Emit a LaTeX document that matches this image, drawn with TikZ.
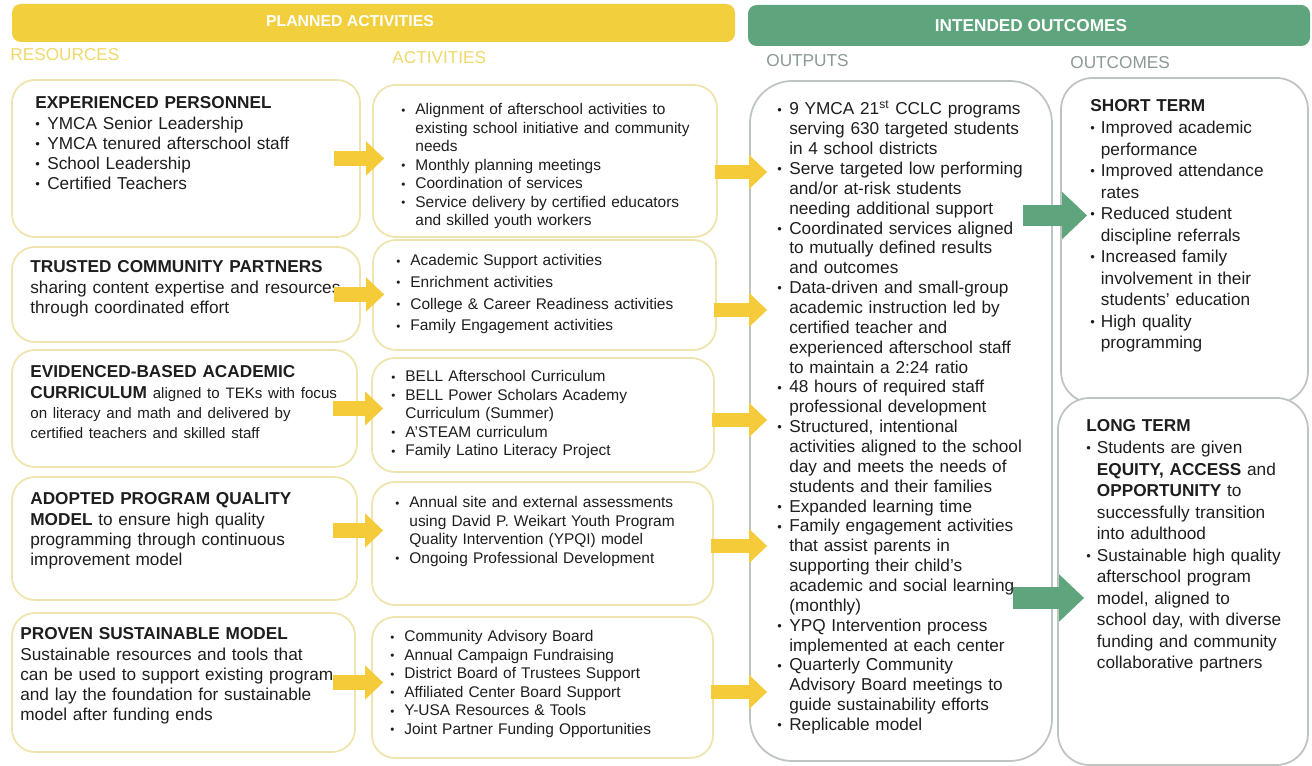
\documentclass[tikz,border=0pt]{standalone}
\usepackage{fontspec}
\setmainfont{Liberation Sans}
\usetikzlibrary{fit,arrows.meta}

\definecolor{planyellow}{HTML}{F2CF3C}
\definecolor{arrowyellow}{HTML}{F5CB3A}
\definecolor{boxyellow}{HTML}{EFE4AE}
\definecolor{labelyellow}{HTML}{EFD96C}
\definecolor{outgreen}{HTML}{5EA47C}
\definecolor{boxgray}{HTML}{BEC5C0}
\definecolor{labelgray}{HTML}{8B9A92}
\definecolor{txt}{HTML}{1E1E1E}

% hanging bullet lines: \fitem opens a list, \bitem continues it
\newlength\bulw
\newcommand{\fitem}{\noindent\hangindent=\bulw\hangafter=1%
  \makebox[\bulw][l]{\raisebox{0.4pt}{\scalebox{0.75}{\textbullet}}}}
\newcommand{\bitem}{\par\fitem}

\begin{document}
\begin{tikzpicture}[x=0.02cm, y=-0.02cm,
    resbox/.style ={draw=boxyellow, line width=1pt, rounded corners=13pt, fill=white, inner sep=0pt},
    outbox/.style ={draw=boxgray, line width=1pt, rounded corners=18pt, fill=white, inner sep=0pt},
    bar/.style ={rounded corners=5pt, inner sep=0pt},
    bartext/.style ={text=white, inner sep=0pt},
    collabel/.style ={anchor=base west, inner sep=0pt, font=\fontsize{9.8}{11}\selectfont},
    restext/.style ={anchor=base west, inner sep=0pt, text width=6.9cm, text=txt,
                     font=\fontsize{9.8}{11.4}\selectfont\setlength\bulw{6.8pt}},
    acttext/.style ={anchor=base west, inner sep=0pt, text width=6.6cm, text=txt,
                     font=\fontsize{8.8}{10.5}\selectfont\setlength\bulw{8pt}},
    outtext/.style ={anchor=base west, inner sep=0pt, text width=5.8cm, text=txt,
                     font=\fontsize{9.8}{11.3}\selectfont\setlength\bulw{6.8pt}},
    termtext/.style ={anchor=base west, inner sep=0pt, text width=4.6cm, text=txt,
                     font=\fontsize{9.8}{12.25}\selectfont\setlength\bulw{6pt}},
    yarrow/.style ={arrowyellow, line width=8.5pt, -{Triangle[width=18.7pt,length=10.2pt]}},
    garrow/.style ={outgreen, line width=12.5pt, -{Triangle[width=26pt,length=14.2pt]}}]

   \useasboundingbox (0,0) rectangle (1312,766);
   \fill[white] (0,0) rectangle (1312,766);

   % header bars
   \node[bar, fill=planyellow, fit={(12,4) (735,42)}] (plan) {};
   \node[bar, fill=outgreen, fit={(748,5) (1310,46)}] (intend) {};
   \node[bartext, font=\fontsize{9}{10}\selectfont\bfseries] (plantext) at (350,21) {PLANNED ACTIVITIES};
   \node[bartext, font=\fontsize{9.8}{11}\selectfont\bfseries] (intendtext) at (1031,26) {INTENDED OUTCOMES};

   % column labels
   \node[collabel, text=labelyellow] (reslabel) at (10,61) {RESOURCES};
   \node[collabel, text=labelyellow] (actlabel) at (392,64) {ACTIVITIES};
   \node[collabel, text=labelgray] (outlabel) at (766,67) {OUTPUTS};
   \node[collabel, text=labelgray] (outclabel) at (1070,69) {OUTCOMES};

   % resources
   \node[resbox, fit={(12,80) (360,237)}] (res1) {};
   \node[resbox, fit={(12,247) (360,342)}] (res2) {};
   \node[resbox, fit={(12,350) (357,467)}] (res3) {};
   \node[resbox, fit={(12,477) (357,600)}] (res4) {};
   \node[resbox, fit={(12,613) (355,752)}] (res5) {};

   % activities
   \node[resbox, fit={(373,85) (717,237)}] (act1) {};
   \node[resbox, fit={(373,240) (716,350)}] (act2) {};
   \node[resbox, fit={(372,358) (714,472)}] (act3) {};
   \node[resbox, fit={(372,482) (713,605)}] (act4) {};
   \node[resbox, fit={(372,617) (713,758)}] (act5) {};

   % outputs and outcomes
   \node[outbox, rounded corners=24pt, fit={(750,81) (1052,761)}] (out) {};
   \node[outbox, fit={(1061,78) (1308,403)}] (st) {};
   \node[outbox, fit={(1058,398) (1308,765)}] (lt) {};

   \node[restext] (res1text) at (35,109) {\textbf{EXPERIENCED PERSONNEL}
     \bitem YMCA Senior Leadership
     \bitem YMCA tenured afterschool staff
     \bitem School Leadership
     \bitem Certified Teachers\par};
   \node[restext] (res2text) at (30,273) {\textbf{TRUSTED COMMUNITY PARTNERS}\newline
     sharing content expertise and resources\newline
     through coordinated effort};
   \node[restext] (res3text) at (30,378) {\textbf{EVIDENCED-BASED ACADEMIC}\newline
     \textbf{CURRICULUM} {\fontsize{8.6}{11.4}\selectfont aligned to TEKs with focus\newline
     on literacy and math and delivered by\newline
     certified teachers and skilled staff}};
   \node[restext] (res4text) at (30,505) {\textbf{ADOPTED PROGRAM QUALITY}\newline
     \textbf{MODEL} to ensure high quality\newline
     programming through continuous\newline
     improvement model};
   \node[restext] (res5text) at (20,640) {\textbf{PROVEN SUSTAINABLE MODEL}\newline
     Sustainable resources and tools that\newline
     can be used to support existing program\newline
     and lay the foundation for sustainable\newline
     model after funding ends};

   \node[acttext] (act1text) at (401,115) {%
     \fitem Alignment of afterschool activities to\newline
       existing school initiative and community\newline needs
     \bitem Monthly planning meetings
     \bitem Coordination of services
     \bitem Service delivery by certified educators\newline
       and skilled youth workers\par};
   \node[acttext] (act2text) at (396,266) {\baselineskip=12.3pt
     \fitem Academic Support activities
     \bitem Enrichment activities
     \bitem College \& Career Readiness activities
     \bitem Family Engagement activities\par};
   \node[acttext] (act3text) at (391,382) {%
     \fitem BELL Afterschool Curriculum
     \bitem BELL Power Scholars Academy\newline Curriculum (Summer)
     \bitem A'STEAM curriculum
     \bitem Family Latino Literacy Project\par};
   \node[acttext] (act4text) at (395,508) {%
     \fitem Annual site and external assessments\newline
       using David P. Weikart Youth Program\newline
       Quality Intervention (YPQI) model
     \bitem Ongoing Professional Development\par};
   \node[acttext] (act5text) at (390,642) {%
     \fitem Community Advisory Board
     \bitem Annual Campaign Fundraising
     \bitem District Board of Trustees Support
     \bitem Affiliated Center Board Support
     \bitem Y-USA Resources \& Tools
     \bitem Joint Partner Funding Opportunities\par};

   \node[outtext] (outtext) at (777,115) {%
     \fitem 9 YMCA 21\textsuperscript{st} CCLC programs\newline
       serving 630 targeted students\newline in 4 school districts
     \bitem Serve targeted low performing\newline
       and/or at-risk students\newline needing additional support
     \bitem Coordinated services aligned\newline
       to mutually defined results\newline and outcomes
     \bitem Data-driven and small-group\newline
       academic instruction led by\newline certified teacher and\newline
       experienced afterschool staff\newline to maintain a 2:24 ratio
     \bitem 48 hours of required staff\newline professional development
     \bitem Structured, intentional\newline
       activities aligned to the school\newline
       day and meets the needs of\newline students and their families
     \bitem Expanded learning time
     \bitem Family engagement activities\newline
       that assist parents in\newline supporting their child's\newline
       academic and social learning\newline (monthly)
     \bitem YPQ Intervention process\newline implemented at each center
     \bitem Quarterly Community\newline
       Advisory Board meetings to\newline guide sustainability efforts
     \bitem Replicable model\par};

   \node[termtext] (sttext) at (1090,112) {\textbf{SHORT TERM}
     \bitem Improved academic\newline performance
     \bitem Improved attendance\newline rates
     \bitem Reduced student\newline discipline referrals
     \bitem Increased family\newline involvement in their\newline students' education
     \bitem High quality\newline programming\par};
   \node[termtext] (lttext) at (1086,432) {\textbf{LONG TERM}
     \bitem Students are given\newline \textbf{EQUITY, ACCESS} and\newline
       \textbf{OPPORTUNITY} to\newline successfully transition\newline into adulthood
     \bitem Sustainable high quality\newline afterschool program\newline
       model, aligned to\newline school day, with diverse\newline
       funding and community\newline collaborative partners\par};

   % resources to activities
   \draw[yarrow, shorten <=-0.54cm, shorten >=-0.24cm] (res1.east) -- (res1.east -| act1.west);
   \draw[yarrow, shorten <=-0.54cm, shorten >=-0.24cm] (res2.east) -- (res2.east -| act2.west);
   \draw[yarrow, shorten <=-0.5cm, shorten >=-0.24cm] (res3.east) -- (res3.east -| act3.west);
   \draw[yarrow, shorten <=-0.5cm, shorten >=-0.24cm] ([yshift=0.16cm]res4.east) -- ([yshift=0.16cm]res4.east -| act4.west);
   \draw[yarrow, shorten <=-0.46cm, shorten >=-0.24cm] (res5.east) -- (res5.east -| act5.west);

   % activities to outputs
   \draw[yarrow, shorten <=-0.06cm, shorten >=-0.36cm] ([yshift=-0.22cm]act1.east) -- ([yshift=-0.22cm]act1.east -| out.west);
   \draw[yarrow, shorten <=-0.06cm, shorten >=-0.36cm] ([yshift=-0.3cm]act2.east) -- ([yshift=-0.3cm]act2.east -| out.west);
   \draw[yarrow, shorten <=-0.06cm, shorten >=-0.36cm] ([yshift=-0.1cm]act3.east) -- ([yshift=-0.1cm]act3.east -| out.west);
   \draw[yarrow, shorten <=-0.06cm, shorten >=-0.36cm] ([yshift=-0.05cm]act4.east) -- ([yshift=-0.05cm]act4.east -| out.west);
   \draw[yarrow, shorten <=-0.06cm, shorten >=-0.36cm] ([yshift=-0.09cm]act5.east) -- ([yshift=-0.09cm]act5.east -| out.west);

   % outputs to outcomes
   \draw[garrow, shorten <=-0.6cm, shorten >=-0.54cm] ([yshift=0.5cm]st.west -| out.east) -- ([yshift=0.5cm]st.west);
   \draw[garrow, shorten <=-0.8cm, shorten >=-0.54cm] ([yshift=-0.33cm]lt.west -| out.east) -- ([yshift=-0.33cm]lt.west);
\end{tikzpicture}
\end{document}
